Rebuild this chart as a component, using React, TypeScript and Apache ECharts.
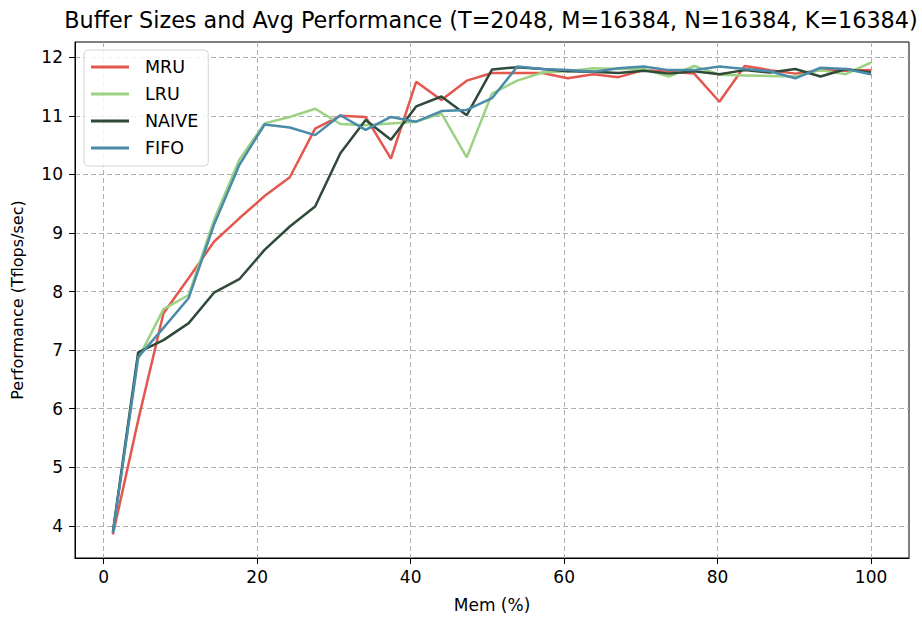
import React, { useEffect, useRef } from "react";
import * as echarts from "echarts";

// Memory budget (% of total) at which each run was measured
const memPct = [
  1.2, 4.49, 7.79, 11.08, 14.37, 17.67, 20.96, 24.25, 27.55, 30.84, 34.13,
  37.43, 40.72, 44.01, 47.31, 50.6, 53.89, 57.19, 60.48, 63.77, 67.07, 70.36,
  73.65, 76.95, 80.24, 83.53, 86.83, 90.12, 93.41, 96.71, 100,
];

// Average throughput (Tflops/sec) per eviction policy
const mru = [
  3.85, 5.8, 7.63, 8.23, 8.85, 9.25, 9.63, 9.95, 10.78, 11.0, 10.98, 10.27,
  11.58, 11.27, 11.6, 11.73, 11.73, 11.73, 11.64, 11.71, 11.66, 11.78, 11.75,
  11.72, 11.24, 11.85, 11.78, 11.72, 11.78, 11.77, 11.78,
];
const lru = [
  3.88, 6.85, 7.7, 7.94, 9.22, 10.25, 10.87, 10.98, 11.12, 10.86, 10.84, 10.87,
  10.9, 11.04, 10.29, 11.38, 11.6, 11.74, 11.76, 11.81, 11.8, 11.8, 11.67,
  11.85, 11.7, 11.69, 11.68, 11.67, 11.78, 11.71, 11.91,
];
const naive = [
  3.9, 6.96, 7.17, 7.46, 7.98, 8.21, 8.71, 9.11, 9.45, 10.36, 10.93, 10.59,
  11.16, 11.33, 11.01, 11.79, 11.83, 11.8, 11.76, 11.75, 11.73, 11.77, 11.72,
  11.76, 11.71, 11.78, 11.74, 11.8, 11.67, 11.8, 11.74,
];
const fifo = [
  3.88, 6.88, 7.38, 7.89, 9.14, 10.16, 10.85, 10.8, 10.67, 11.01, 10.76, 10.98,
  10.9, 11.08, 11.1, 11.3, 11.84, 11.8, 11.78, 11.75, 11.81, 11.84, 11.78,
  11.78, 11.84, 11.8, 11.76, 11.64, 11.82, 11.8, 11.71,
];

const xTicks = [0, 20, 40, 60, 80, 100];
const yTicks = [4, 5, 6, 7, 8, 9, 10, 11, 12];

const policies = [
  { name: "MRU", values: mru, color: "#e4574e" },
  { name: "LRU", values: lru, color: "#9bd283" },
  { name: "NAIVE", values: naive, color: "#2f4a38" },
  { name: "FIFO", values: fifo, color: "#4a8aaa" },
];

const FONT = "DejaVu Sans";

// Legend swatch: a short horizontal bar centred in a 38x14 box (the two
// zero-length subpaths pin the box so the bar is not stretched)
const LEGEND_ICON = "path://M0,0L0,0M0,5.6L38,5.6L38,8.4L0,8.4ZM38,14L38,14";

export default function App() {
  const ref = useRef<HTMLDivElement>(null);

  useEffect(() => {
    if (!ref.current) return;
    const chart = echarts.init(ref.current, undefined, { renderer: "svg" });

    const gridLine = {
      show: true,
      lineStyle: { color: "#b0b0b0", width: 1, type: [5, 3] as number[] },
    };

    chart.setOption({
      animation: false,
      backgroundColor: "#ffffff",
      title: {
        text: "Buffer Sizes and Avg Performance (T=2048, M=16384, N=16384, K=16384)",
        left: 491,
        top: 9,
        padding: 0,
        textAlign: "center",
        textStyle: {
          fontFamily: FONT,
          fontSize: 22.3,
          fontWeight: "normal",
          color: "#000",
        },
      },
      legend: {
        orient: "vertical",
        left: 84,
        top: 50,
        padding: [8, 10, 9, 7],
        icon: LEGEND_ICON,
        itemWidth: 38,
        itemHeight: 14,
        itemGap: 9,
        backgroundColor: "rgba(255,255,255,0.85)",
        borderColor: "#d4d4d4",
        borderWidth: 1,
        borderRadius: 4,
        textStyle: {
          fontFamily: FONT,
          fontSize: 17.5,
          color: "#000",
          padding: [0, 0, 0, 11],
        },
        data: policies.map((p) => p.name),
      },
      grid: {
        left: 75,
        right: 13,
        top: 42,
        bottom: 60,
        show: true,
        borderColor: "#000",
        borderWidth: 1,
        backgroundColor: "transparent",
      },
      xAxis: {
        type: "value",
        min: -3.74,
        max: 104.94,
        name: "Mem (%)",
        nameLocation: "middle",
        nameGap: 38,
        nameTextStyle: { fontFamily: FONT, fontSize: 17, color: "#000" },
        axisLine: { show: true, onZero: false, lineStyle: { color: "#000" } },
        axisTick: {
          show: true,
          length: 6,
          customValues: xTicks,
          lineStyle: { color: "#000" },
        },
        axisLabel: {
          customValues: xTicks,
          margin: 10,
          fontFamily: FONT,
          fontSize: 17,
          color: "#000",
        },
        splitLine: gridLine,
      },
      yAxis: {
        type: "value",
        min: 3.45,
        max: 12.26,
        name: "Performance (Tflops/sec)",
        nameLocation: "middle",
        nameGap: 50,
        nameTextStyle: { fontFamily: FONT, fontSize: 16, color: "#000" },
        axisLine: { show: true, onZero: false, lineStyle: { color: "#000" } },
        axisTick: {
          show: true,
          length: 6,
          customValues: yTicks,
          lineStyle: { color: "#000" },
        },
        axisLabel: {
          customValues: yTicks,
          margin: 12,
          fontFamily: FONT,
          fontSize: 17,
          color: "#000",
        },
        splitLine: gridLine,
      },
      series: policies.map((p) => ({
        name: p.name,
        type: "line",
        data: memPct.map((x, i) => [x, p.values[i]]),
        showSymbol: false,
        symbol: "none",
        color: p.color,
        itemStyle: { color: p.color },
        lineStyle: { color: p.color, width: 2.5 },
      })),
    });

    return () => chart.dispose();
  }, []);

  return (
    <div
      ref={ref}
      style={{ position: "absolute", left: 0, top: 0, width: 922, height: 618 }}
    />
  );
}
